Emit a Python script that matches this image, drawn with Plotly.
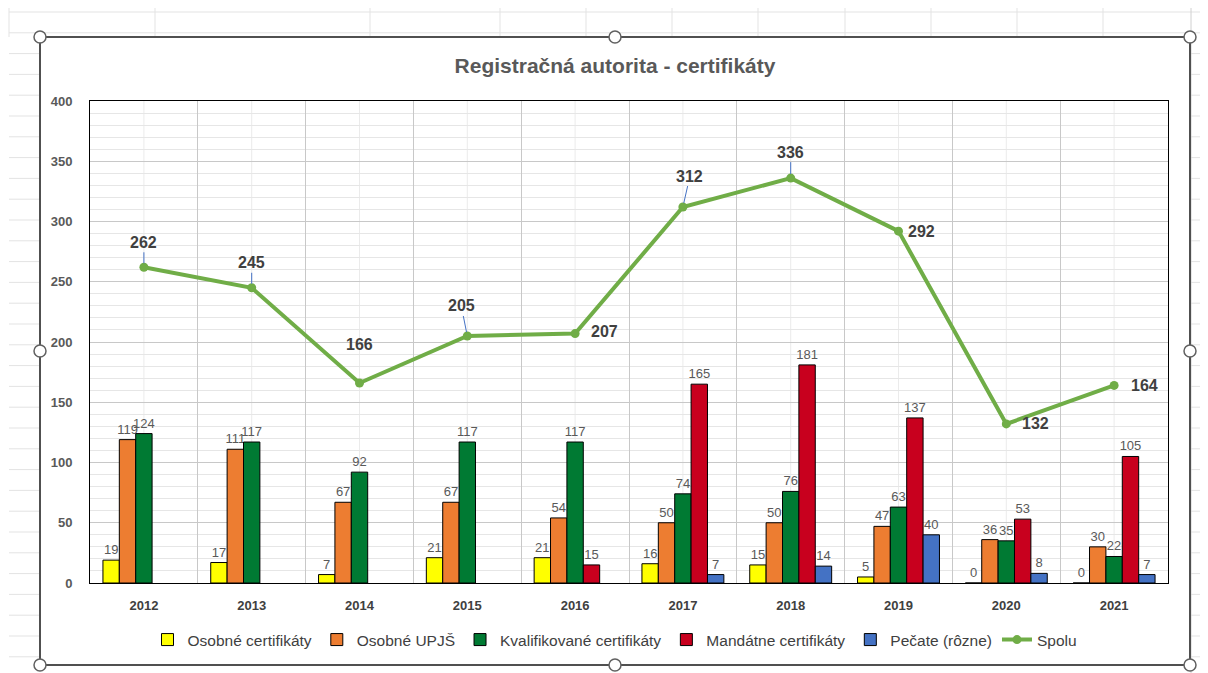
import plotly.graph_objects as go

# Data
years = ["2012", "2013", "2014", "2015", "2016", "2017", "2018", "2019", "2020", "2021"]
osobne_cert = [19, 17, 7, 21, 21, 16, 15, 5, 0, 0]
osobne_upjs = [119, 111, 67, 67, 54, 50, 50, 47, 36, 30]
kvalifikovane = [124, 117, 92, 117, 117, 74, 76, 63, 35, 22]
mandatne = [None, None, None, None, 15, 165, 181, 137, 53, 105]
pecate = [None, None, None, None, None, 7, 14, 40, 8, 7]
spolu = [262, 245, 166, 205, 207, 312, 336, 292, 132, 164]

# label offsets (px) for the Spolu labels and whether a leader line is visible
lab_dx = [0, 0, 0, -6, 29, 7, 0, 23, 29, 30]
lab_dy = [-25, -25, -38, -30, -2, -31, -26, 0, 0, 0]
lab_line = [True, True, False, True, False, True, True, False, False, False]

# the page body adds ~8px margin, so the figure is a bit smaller and shifted
OX, OY = 8, 8
W, H = 1200, 665


def fx(px):
    return (px - OX) / W


def fy(py):
    return 1 - (py - OY) / H


fig = go.Figure()

bar_series = [
    ("Osobné certifikáty", osobne_cert, "#FFFF00"),
    ("Osobné UPJŠ", osobne_upjs, "#ED7D31"),
    ("Kvalifikované certifikáty", kvalifikovane, "#007A33"),
    ("Mandátne certifikáty", mandatne, "#C8001E"),
    ("Pečate (rôzne)", pecate, "#4472C4"),
]
for name, vals, col in bar_series:
    fig.add_trace(go.Bar(
        x=years, y=vals, name=name,
        marker=dict(color=col, line=dict(color="#000000", width=1)),
        text=[("" if v is None else str(v)) for v in vals],
        textposition="outside", constraintext="none",
        textfont=dict(family="Liberation Sans", size=13, color="#595959"),
        cliponaxis=False,
    ))

fig.add_trace(go.Scatter(
    x=years, y=spolu, name="Spolu", mode="lines+markers",
    line=dict(color="#70AD47", width=4),
    marker=dict(color="#70AD47", size=9),
    cliponaxis=False,
))

# Spolu data labels (x given as category index)
for i in range(len(years)):
    fig.add_annotation(
        x=i, y=spolu[i], xref="x", yref="y",
        text="<b>%d</b>" % spolu[i],
        showarrow=True, arrowhead=0, arrowwidth=1, standoff=4,
        arrowcolor="#4472C4" if lab_line[i] else "rgba(0,0,0,0)",
        ax=lab_dx[i], ay=lab_dy[i],
        font=dict(family="Liberation Sans", size=16, color="#404040"),
    )

shapes = []
# spreadsheet grid outside the chart frame
y = 12.0
while y < 673:
    if y < 37:
        shapes.append(dict(type="line", xref="paper", yref="paper", x0=fx(9), x1=1,
                           y0=fy(y), y1=fy(y), line=dict(color="#E3E3E3", width=1), layer="below"))
    else:
        shapes.append(dict(type="line", xref="paper", yref="paper", x0=fx(9), x1=fx(40),
                           y0=fy(y), y1=fy(y), line=dict(color="#E3E3E3", width=1), layer="below"))
        shapes.append(dict(type="line", xref="paper", yref="paper", x0=fx(1190), x1=1,
                           y0=fy(y), y1=fy(y), line=dict(color="#E3E3E3", width=1), layer="below"))
    y += 20.8
for cx in [9, 155, 370, 500, 586, 672, 758, 845, 931, 1017, 1103]:
    shapes.append(dict(type="line", xref="paper", yref="paper", x0=fx(cx), x1=fx(cx),
                       y0=1, y1=fy(37), line=dict(color="#E3E3E3", width=1), layer="below"))
shapes.append(dict(type="line", xref="paper", yref="paper", x0=fx(1191), x1=fx(1191),
                   y0=1, y1=0, line=dict(color="#D0D0D0", width=1), layer="below"))
for y0, y1 in [(78, 100), (108, 130), (140, 165)]:
    shapes.append(dict(type="line", xref="paper", yref="paper", x0=fx(1204), x1=fx(1204),
                       y0=fy(y0), y1=fy(y1), line=dict(color="#404040", width=2)))

# column lines through the transparent plot area (category index positions)
for i in range(len(years)):
    shapes.append(dict(type="line", xref="x", yref="paper", x0=i, x1=i,
                       y0=fy(583), y1=fy(101), line=dict(color="#EBEBEB", width=1), layer="below"))

# chart frame
shapes.append(dict(type="rect", xref="paper", yref="paper", x0=fx(40), x1=fx(1190),
                   y0=fy(37), y1=fy(665), line=dict(color="#505050", width=2)))
# selection handles
for hx, hy in [(40, 37), (615, 37), (1190, 37), (40, 351), (1190, 351),
               (40, 665), (615, 665), (1190, 665)]:
    shapes.append(dict(type="circle", xref="paper", yref="paper",
                       x0=fx(hx - 6), x1=fx(hx + 6), y0=fy(hy - 6), y1=fy(hy + 6),
                       fillcolor="#FFFFFF", line=dict(color="#606060", width=1.5)))

fig.update_layout(
    width=W, height=H,
    margin=dict(l=0, r=0, t=0, b=0, autoexpand=False),
    paper_bgcolor="#FFFFFF", plot_bgcolor="#FFFFFF",
    barmode="group", bargap=0.24, bargroupgap=0,
    font=dict(family="Liberation Sans", color="#595959"),
    title=dict(text="<b>Registračná autorita - certifikáty</b>",
               x=fx(615), xanchor="center", y=fy(66), yanchor="middle",
               font=dict(family="Liberation Sans", size=21, color="#595959")),
    legend=dict(orientation="h", x=fx(615), xanchor="center", y=fy(640), yanchor="middle",
                font=dict(family="Liberation Sans", size=15.5, color="#404040"),
                bgcolor="rgba(0,0,0,0)", itemwidth=30, tracegroupgap=0),
    xaxis=dict(domain=[fx(90), fx(1168)], type="category", tickson="boundaries",
               range=[-0.5, len(years) - 0.5], tickangle=0,
               showgrid=True, gridcolor="#C8C8C8", gridwidth=1,
               showline=True, linecolor="#000000", linewidth=1, mirror=True,
               ticks="", ticklabelstandoff=10,
               tickfont=dict(family="Liberation Sans", size=13, color="#404040", weight="bold")),
    yaxis=dict(domain=[fy(583), fy(101)], range=[0, 400], dtick=50,
               showgrid=True, gridcolor="#C8C8C8", gridwidth=1,
               minor=dict(dtick=10, showgrid=True, gridcolor="#E6E6E6", gridwidth=1),
               showline=True, linecolor="#000000", linewidth=1, mirror=True,
               zeroline=False, ticks="", ticklabelstandoff=14,
               tickfont=dict(family="Liberation Sans", size=13, color="#595959", weight="bold")),
    shapes=shapes,
)

fig.write_html("out.html")
